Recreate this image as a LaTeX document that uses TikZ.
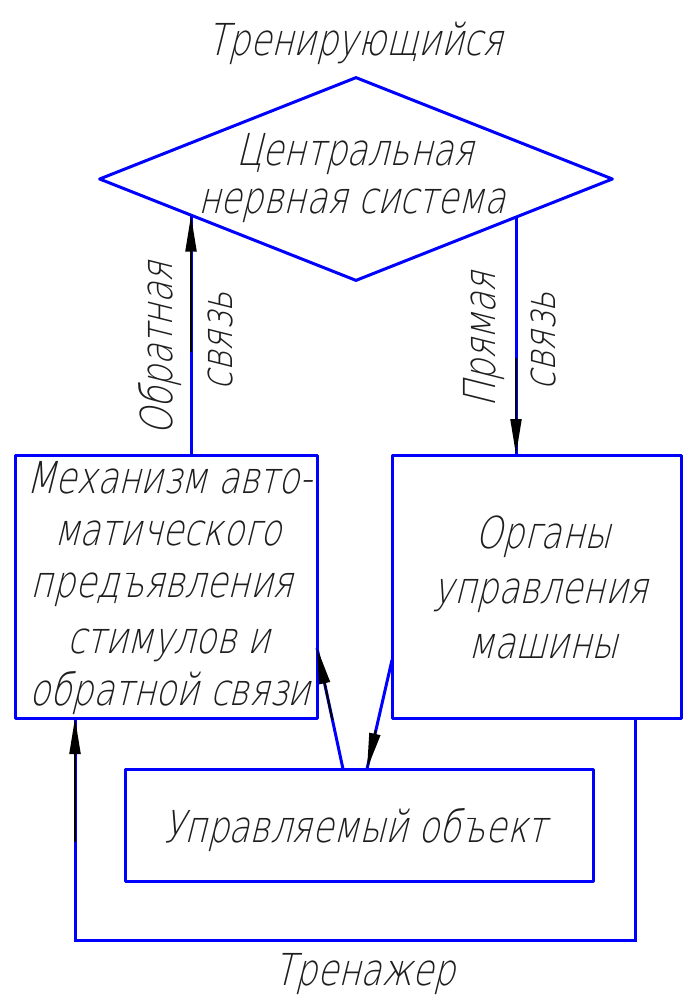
\documentclass[tikz,border=0pt]{standalone}
\usepackage{fontspec}
\newfontfamily\gost{DejaVu Sans ExtraLight}[FakeSlant=0.25,FakeStretch=0.78]
\usetikzlibrary{shapes.geometric,arrows.meta}
\definecolor{lineblue}{RGB}{0,0,255}
\definecolor{txt}{RGB}{30,30,30}
\begin{document}
\begin{tikzpicture}[x=1pt,y=-1pt,
  bl/.style={draw=lineblue,line width=3pt,line join=round},
  box/.style={bl,rectangle,inner sep=0pt},
  lbl/.style={font=\gost\fontsize{44}{52}\selectfont,text=txt,inner sep=0pt,anchor=base},
  vlbl/.style={lbl,rotate=90,anchor=center},
  conn/.style={lineblue,line width=3pt},
  shaft/.style={black,line width=2pt,-{Triangle[length=36pt,width=11pt]}}]
\useasboundingbox (0,0) rectangle (683,996);
% shapes
\node[bl,diamond,minimum width=514pt,minimum height=204pt,inner sep=0pt] (cns) at (356,179) {};
\node[box,minimum width=302pt,minimum height=263pt] (mech) at (166,586.5) {};
\node[box,minimum width=289pt,minimum height=263pt] (org) at (536.5,586.5) {};
\node[box,minimum width=468pt,minimum height=112pt] (obj) at (359,825) {};
% connector points
\coordinate (fbTop) at (191,215.5);
\coordinate (fbMid) at (191,352);
\coordinate (fbBot) at (191,455);
\coordinate (dTop) at (516,217.5);
\coordinate (dMid) at (516,358);
\coordinate (dBot) at (516,455);
\coordinate (mechIn) at (317,648);
\coordinate (objOut) at (343,769);
\coordinate (dgA) at (332.5,720);
\coordinate (orgOut) at (392,660);
\coordinate (objIn) at (367,769);
\coordinate (dgB) at (375.8,730);
\coordinate (loopA) at (635,718);
\coordinate (loopB) at (635,940);
\coordinate (loopC) at (75,940);
\coordinate (loopD) at (75,718);
\coordinate (loopE) at (75,842);
% connectors
\draw[conn] (fbBot) -- (fbTop);
\draw[shaft] (fbMid) -- (fbTop);
\draw[conn] (dTop) -- (dBot);
\draw[shaft] (dMid) -- (dBot);
\draw[conn] (objOut) -- (mechIn);
\draw[shaft] (dgA) -- (mechIn);
\draw[conn] (orgOut) -- (objIn);
\draw[shaft] (dgB) -- (objIn);
\draw[conn] (loopA) -- (loopB) -- (loopC) -- (loopD);
\draw[shaft] (loopE) -- (loopD);
% texts
\node[lbl] (trn) at (355,55) {Тренирующийся};
\node[lbl] (cns1) at (355,165) {Центральная};
\node[lbl] (cns2) at (352,213) {нервная система};
\node[vlbl] (fb1) at (160,349) {Обратная};
\node[vlbl] (fb2) at (220,341) {связь};
\node[vlbl] (d1) at (484,340) {Прямая};
\node[vlbl] (d2) at (543,341) {связь};
\node[lbl] (m1) at (169,493) {Механизм авто-};
\node[lbl] (m2) at (168,545) {матического};
\node[lbl] (m3) at (162,597) {предъявления};
\node[lbl] (m4) at (169,653) {стимулов и};
\node[lbl] (m5) at (170,705) {обратной связи};
\node[lbl] (o1) at (543,548) {Органы};
\node[lbl] (o2) at (541,603) {управления};
\node[lbl] (o3) at (543,658) {машины};
\node[lbl] (ob) at (355,842) {Управляемый объект};
\node[lbl] (trz) at (365,985) {Тренажер};
\end{tikzpicture}
\end{document}
